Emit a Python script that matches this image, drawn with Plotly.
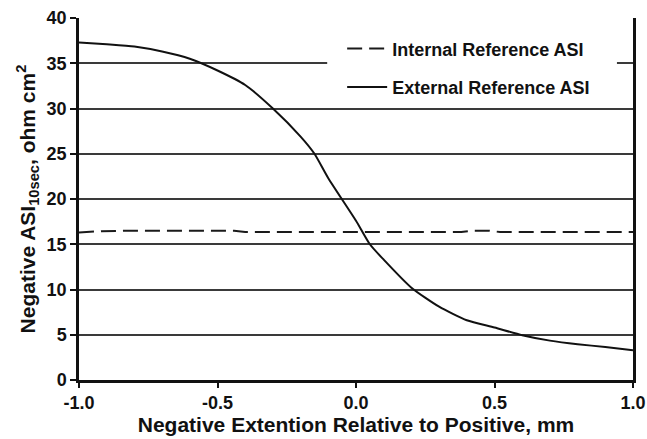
import plotly.graph_objects as go

# Negative electrode extension relative to positive, mm
ext_x = [-1.0, -0.9, -0.8, -0.7, -0.6, -0.5, -0.4, -0.3, -0.2, -0.15, -0.1,
         0.0, 0.05, 0.1, 0.2, 0.3, 0.4, 0.5, 0.6, 0.7, 0.8, 0.9, 1.0]
# External reference ASI (10 s), ohm cm^2
ext_asi = [37.3, 37.1, 36.85, 36.3, 35.5, 34.2, 32.6, 30.0, 26.9, 25.0, 22.3,
           17.6, 15.0, 13.3, 10.2, 8.1, 6.6, 5.8, 4.95, 4.35, 3.95, 3.65, 3.3]

int_x = [-1.0, -0.92, -0.8, -0.7, -0.6, -0.5, -0.44, -0.4, -0.3, -0.2, -0.1,
         0.0, 0.1, 0.2, 0.3, 0.38, 0.42, 0.48, 0.52, 0.6, 0.7, 0.8, 0.9, 1.0]
# Internal reference ASI (10 s), ohm cm^2
int_asi = [16.3, 16.45, 16.5, 16.5, 16.5, 16.5, 16.5, 16.35, 16.35, 16.35, 16.35,
           16.35, 16.35, 16.35, 16.35, 16.35, 16.5, 16.5, 16.35, 16.35, 16.35, 16.35, 16.35, 16.35]

x_ticks = [-1.0, -0.5, 0.0, 0.5, 1.0]
x_tick_text = ["-1.0", "-0.5", "0.0", "0.5", "1.0"]
y_ticks = [0, 5, 10, 15, 20, 25, 30, 35, 40]

FONT = "Arial, Liberation Sans, sans-serif"
INK = "#111111"

fig = go.Figure()
fig.add_trace(go.Scatter(
    x=int_x, y=int_asi, mode="lines", name="Internal Reference ASI",
    legendgroup="int",
    line=dict(color="#1a1a1a", width=2, dash="15px,7px"), cliponaxis=False,
))
fig.add_trace(go.Scatter(
    x=ext_x, y=ext_asi, mode="lines", name="External Reference ASI",
    legendgroup="ext",
    line=dict(color=INK, width=2, shape="spline", smoothing=0.6),
    cliponaxis=False,
))

# white panel behind the legend, masking the gridline it sits on
fig.add_shape(
    type="rect", layer="above",
    xref="paper", yref="y", x0=0.448, x1=0.971, y0=33.5, y1=36.5,
    fillcolor="white", line=dict(width=0),
)

fig.update_layout(
    width=647, height=439,
    margin=dict(l=79, r=14, t=18, b=59),
    paper_bgcolor="white", plot_bgcolor="white",
    font=dict(family=FONT, color=INK),
    showlegend=True,
    legend=dict(
        x=0.475, y=0.966, xanchor="left", yanchor="top",
        bgcolor="white", borderwidth=0,
        font=dict(family=FONT, size=18, color=INK, weight="bold"),
        traceorder="grouped", tracegroupgap=12,
        itemwidth=40,
    ),
    xaxis=dict(
        range=[-1.0, 1.0], tickvals=x_ticks, ticktext=x_tick_text,
        automargin=False,
        showgrid=False, zeroline=False,
        showline=True, linecolor=INK, linewidth=2.5,
        ticks="outside", ticklen=5, tickwidth=2, tickcolor=INK,
        tickfont=dict(family=FONT, size=18, color=INK, weight="bold"),
        title=dict(text="Negative Extention Relative to Positive, mm",
                   font=dict(family=FONT, size=21, color=INK, weight="bold"),
                   standoff=4),
    ),
    yaxis=dict(
        range=[0, 40], tickvals=y_ticks,
        automargin=False,
        showgrid=True, gridcolor="#3a3a3a", gridwidth=1.5,
        zeroline=False,
        showline=True, linecolor=INK, linewidth=2.5, mirror=True,
        ticks="outside", ticklen=6, tickwidth=2, tickcolor=INK,
        tickfont=dict(family=FONT, size=18, color=INK, weight="bold"),
        title=dict(text="Negative ASI<sub>10sec</sub>, ohm cm<sup>2</sup>",
                   font=dict(family=FONT, size=21, color=INK, weight="bold"),
                   standoff=6),
    ),
)

fig.write_html("out.html")
